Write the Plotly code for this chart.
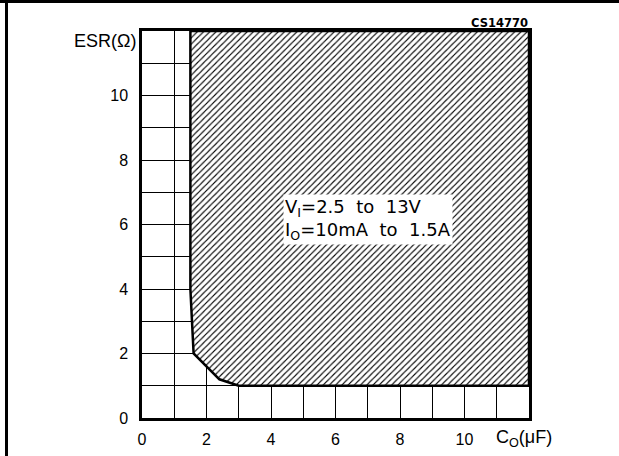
import plotly.graph_objects as go

# Boundary of the stability region (Co in uF, ESR in ohm)
boundary_co = [1.5, 1.5, 1.55, 1.6, 2.4, 3.0, 12.0, 12.0]
boundary_esr = [12.0, 4.0, 3.0, 2.0, 1.2, 1.0, 1.0, 12.0]

x_ticks = [0, 2, 4, 6, 8, 10]
y_ticks = [0, 2, 4, 6, 8, 10]

W, H = 619, 456
L, R, T, B = 142, 90, 31, 38
pw, ph = W - L - R, H - T - B

def px(x):
    return (x - L) / pw

def py(y):
    return (H - B - y) / ph

fig = go.Figure()
fig.add_trace(go.Scatter(
    x=boundary_co + [boundary_co[0]],
    y=boundary_esr + [boundary_esr[0]],
    mode="lines",
    fill="toself",
    fillcolor="white",
    fillpattern=dict(shape="/", size=4.4, solidity=0.25, fgcolor="black", bgcolor="white"),
    line=dict(color="black", width=2.5),
    hoverinfo="skip",
    showlegend=False,
))

ARIAL = "Liberation Sans, Arial, sans-serif"
DEJA = "DejaVu Sans, sans-serif"
font = dict(family=ARIAL, size=16, color="black")

axis_common = dict(range=[0, 12], showgrid=True, gridcolor="black", gridwidth=1,
                   minor=dict(dtick=1, showgrid=True, gridcolor="black", gridwidth=1),
                   showline=True, linecolor="black", linewidth=2.5, mirror=True,
                   ticks="", zeroline=False, automargin=False, tickfont=font,
                   fixedrange=True)

fig.update_layout(
    template="none",
    width=W, height=H,
    margin=dict(l=L, r=R, t=T, b=B, pad=0, autoexpand=False),
    paper_bgcolor="white", plot_bgcolor="white",
    font=font,
    showlegend=False,
    xaxis=dict(tickvals=x_ticks, ticklabelstandoff=5, **axis_common),
    yaxis=dict(tickvals=y_ticks, ticklabelstandoff=8, **axis_common),
)

# outer frame lines (top and left)
fig.add_shape(type="line", xref="paper", yref="paper", x0=px(0), x1=px(W), y0=py(1.5), y1=py(1.5),
              line=dict(color="black", width=3))
fig.add_shape(type="line", xref="paper", yref="paper", x0=px(6.5), x1=px(6.5), y0=py(0), y1=py(H),
              line=dict(color="black", width=3))

fig.add_annotation(xref="paper", yref="paper", x=px(138), y=py(41), text="ESR(Ω)",
                   showarrow=False, xanchor="right", yanchor="middle",
                   font=dict(family=ARIAL, size=18, color="black"))
fig.add_annotation(xref="paper", yref="paper", x=px(524), y=py(438), text="C<sub>O</sub>(μF)",
                   showarrow=False, xanchor="center", yanchor="middle",
                   font=dict(family=ARIAL, size=18, color="black"))
fig.add_annotation(xref="paper", yref="paper", x=px(530), y=py(23), text="<b>CS14770</b>",
                   showarrow=False, xanchor="right", yanchor="middle",
                   font=dict(family=DEJA, size=11.5, color="black"))
fig.add_annotation(xref="paper", yref="paper", x=px(283), y=py(219),
                   text="V<sub>I</sub>=2.5  to  13V<br>I<sub>O</sub>=10mA  to  1.5A",
                   showarrow=False, xanchor="left", yanchor="middle", align="left",
                   bgcolor="white", borderpad=1,
                   font=dict(family=DEJA, size=18, color="black"))

fig.write_html("out.html", config={"displayModeBar": False},
               post_script="document.body.style.margin='0';")
